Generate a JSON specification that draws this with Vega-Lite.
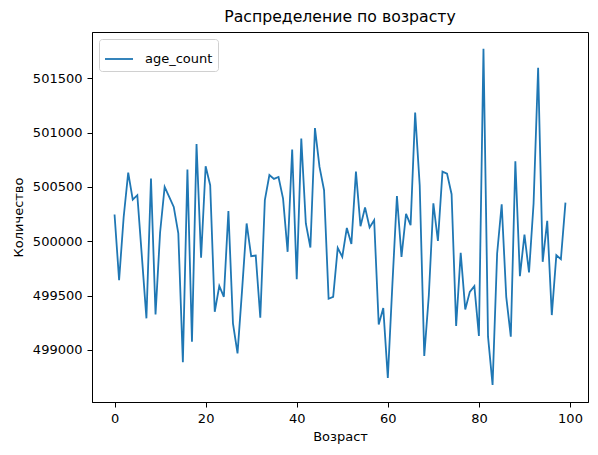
{
  "$schema": "https://vega.github.io/schema/vega-lite/v6.json",
  "width": 496,
  "height": 370,
  "autosize": {"type": "none"},
  "padding": {"left": 92, "top": 32, "right": 10, "bottom": 53},
  "background": "white",
  "title": {"text": "Распределение по возрасту", "fontSize": 15.7, "fontWeight": "normal", "font": "DejaVu Sans", "color": "black", "offset": 6},
  "data": {"values": [
    {"age": 0, "age_count": 500245}, {"age": 1, "age_count": 499642}, {"age": 2, "age_count": 500220}, {"age": 3, "age_count": 500631},
    {"age": 4, "age_count": 500383}, {"age": 5, "age_count": 500423}, {"age": 6, "age_count": 499860}, {"age": 7, "age_count": 499290},
    {"age": 8, "age_count": 500576}, {"age": 9, "age_count": 499326}, {"age": 10, "age_count": 500080}, {"age": 11, "age_count": 500499},
    {"age": 12, "age_count": 500407}, {"age": 13, "age_count": 500315}, {"age": 14, "age_count": 500071}, {"age": 15, "age_count": 498885},
    {"age": 16, "age_count": 500659}, {"age": 17, "age_count": 499075}, {"age": 18, "age_count": 500894}, {"age": 19, "age_count": 499847},
    {"age": 20, "age_count": 500689}, {"age": 21, "age_count": 500515}, {"age": 22, "age_count": 499350}, {"age": 23, "age_count": 499589},
    {"age": 24, "age_count": 499488}, {"age": 25, "age_count": 500278}, {"age": 26, "age_count": 499244}, {"age": 27, "age_count": 498968},
    {"age": 28, "age_count": 499550}, {"age": 29, "age_count": 500163}, {"age": 30, "age_count": 499862}, {"age": 31, "age_count": 499868},
    {"age": 32, "age_count": 499295}, {"age": 33, "age_count": 500377}, {"age": 34, "age_count": 500609}, {"age": 35, "age_count": 500573},
    {"age": 36, "age_count": 500591}, {"age": 37, "age_count": 500392}, {"age": 38, "age_count": 499902}, {"age": 39, "age_count": 500843},
    {"age": 40, "age_count": 499651}, {"age": 41, "age_count": 500944}, {"age": 42, "age_count": 500163}, {"age": 43, "age_count": 499942},
    {"age": 44, "age_count": 501041}, {"age": 45, "age_count": 500683}, {"age": 46, "age_count": 500469}, {"age": 47, "age_count": 499470},
    {"age": 48, "age_count": 499488}, {"age": 49, "age_count": 499938}, {"age": 50, "age_count": 499856}, {"age": 51, "age_count": 500122},
    {"age": 52, "age_count": 499975}, {"age": 53, "age_count": 500640}, {"age": 54, "age_count": 500138}, {"age": 55, "age_count": 500310},
    {"age": 56, "age_count": 500126}, {"age": 57, "age_count": 500193}, {"age": 58, "age_count": 499234}, {"age": 59, "age_count": 499384},
    {"age": 60, "age_count": 498741}, {"age": 61, "age_count": 499600}, {"age": 62, "age_count": 500416}, {"age": 63, "age_count": 499856},
    {"age": 64, "age_count": 500251}, {"age": 65, "age_count": 500147}, {"age": 66, "age_count": 501183}, {"age": 67, "age_count": 500515},
    {"age": 68, "age_count": 498943}, {"age": 69, "age_count": 499500}, {"age": 70, "age_count": 500349}, {"age": 71, "age_count": 500003},
    {"age": 72, "age_count": 500640}, {"age": 73, "age_count": 500622}, {"age": 74, "age_count": 500432}, {"age": 75, "age_count": 499219},
    {"age": 76, "age_count": 499893}, {"age": 77, "age_count": 499372}, {"age": 78, "age_count": 499534}, {"age": 79, "age_count": 499586},
    {"age": 80, "age_count": 499127}, {"age": 81, "age_count": 501771}, {"age": 82, "age_count": 499121}, {"age": 83, "age_count": 498677},
    {"age": 84, "age_count": 499887}, {"age": 85, "age_count": 500340}, {"age": 86, "age_count": 499488}, {"age": 87, "age_count": 499121},
    {"age": 88, "age_count": 500735}, {"age": 89, "age_count": 499678}, {"age": 90, "age_count": 500061}, {"age": 91, "age_count": 499712},
    {"age": 92, "age_count": 500346}, {"age": 93, "age_count": 501596}, {"age": 94, "age_count": 499810}, {"age": 95, "age_count": 500187},
    {"age": 96, "age_count": 499320}, {"age": 97, "age_count": 499871}, {"age": 98, "age_count": 499835}, {"age": 99, "age_count": 500355}
  ]},
  "mark": {"type": "line", "strokeWidth": 1.8, "clip": true},
  "encoding": {
    "x": {
      "field": "age", "type": "quantitative",
      "scale": {"domain": [-4.95, 103.95], "nice": false, "zero": false},
      "axis": {"title": "Возраст", "values": [0, 20, 40, 60, 80, 100], "format": "d", "titlePadding": 5}
    },
    "y": {
      "field": "age_count", "type": "quantitative",
      "scale": {"domain": [498520, 501925], "nice": false, "zero": false},
      "axis": {"title": "Количество", "values": [499000, 499500, 500000, 500500, 501000, 501500], "format": "d", "titlePadding": 7}
    },
    "color": {
      "datum": "age_count",
      "scale": {"range": ["#1f77b4"]},
      "legend": {
        "title": null, "orient": "top-left", "offset": 7, "symbolType": "stroke", "symbolSize": 784,
        "symbolStrokeWidth": 1.8, "strokeColor": "#d0d0d0", "fillColor": "white", "cornerRadius": 3,
        "padding": 5, "labelFontSize": 13, "labelFont": "DejaVu Sans", "labelColor": "black", "labelOffset": 11
      }
    }
  },
  "config": {
    "font": "DejaVu Sans",
    "view": {"stroke": "black", "strokeWidth": 1},
    "axis": {
      "grid": false, "domainColor": "black", "tickColor": "black", "tickSize": 5, "labelPadding": 5,
      "labelFontSize": 13, "labelColor": "black", "labelFont": "DejaVu Sans",
      "titleFontSize": 13, "titleFontWeight": "normal", "titleColor": "black", "titleFont": "DejaVu Sans"
    }
  }
}
